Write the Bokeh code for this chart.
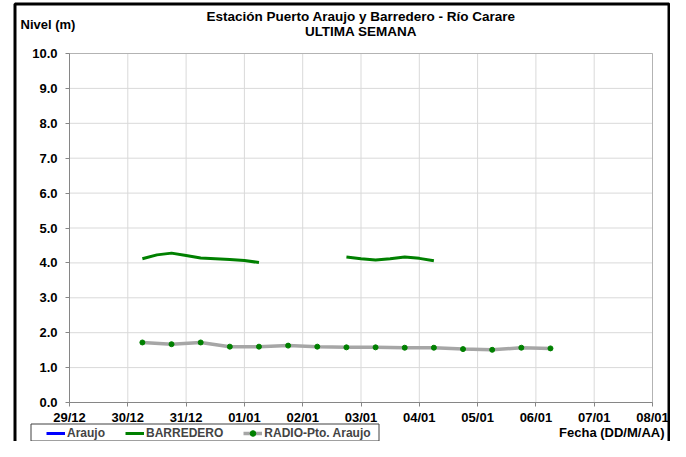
import pandas as pd
from bokeh.plotting import figure
from bokeh.models import (Range1d, FixedTicker, NumeralTickFormatter, Legend,
                          LegendItem, Label, BoxAnnotation)
from bokeh.embed import file_html
from bokeh.resources import INLINE

# ---- data -------------------------------------------------------------
tick_dates = ["2014-12-29", "2014-12-30", "2014-12-31", "2015-01-01", "2015-01-02",
              "2015-01-03", "2015-01-04", "2015-01-05", "2015-01-06", "2015-01-07",
              "2015-01-08"]
tick_labels = ["29/12", "30/12", "31/12", "01/01", "02/01", "03/01", "04/01",
               "05/01", "06/01", "07/01", "08/01"]
y_ticks = [0, 1, 2, 3, 4, 5, 6, 7, 8, 9, 10]

# Araujo has no readings in the week shown
araujo_times = ["2014-12-30 06:00"]
araujo_values = [float("nan")]

barredero_times = ["2014-12-30 06:00", "2014-12-30 12:00", "2014-12-30 18:00",
                   "2014-12-31 00:00", "2014-12-31 06:00", "2014-12-31 12:00",
                   "2014-12-31 18:00", "2015-01-01 00:00", "2015-01-01 06:00",
                   "2015-01-01 12:00",
                   "2015-01-02 18:00", "2015-01-03 00:00", "2015-01-03 06:00",
                   "2015-01-03 12:00", "2015-01-03 18:00", "2015-01-04 00:00",
                   "2015-01-04 06:00"]
barredero_values = [4.12, 4.23, 4.28, 4.21, 4.14, 4.12, 4.10, 4.07, 4.01,
                    float("nan"),
                    4.17, 4.12, 4.08, 4.12, 4.17, 4.13, 4.06]

radio_times = ["2014-12-30 06:00", "2014-12-30 18:00", "2014-12-31 06:00",
               "2014-12-31 18:00", "2015-01-01 06:00", "2015-01-01 18:00",
               "2015-01-02 06:00", "2015-01-02 18:00", "2015-01-03 06:00",
               "2015-01-03 18:00", "2015-01-04 06:00", "2015-01-04 18:00",
               "2015-01-05 06:00", "2015-01-05 18:00", "2015-01-06 06:00"]
radio_values = [1.72, 1.67, 1.72, 1.60, 1.60, 1.63, 1.60, 1.58, 1.58,
                1.57, 1.57, 1.53, 1.51, 1.57, 1.55]

# ---- layout (pixels) --------------------------------------------------
W, H = 670, 441
PX_LEFT, PX_RIGHT = 69, 652      # chart area inside the canvas
PX_TOP, PX_BOTTOM = 53, 402
FONT = "Liberation Sans"
DAY = 86400000

ticks_dt = pd.to_datetime(tick_dates)
tick_ms = [int(t.value // 10**6) for t in ticks_dt]
ppd = (PX_RIGHT - PX_LEFT) / ((tick_ms[-1] - tick_ms[0]) / DAY)
x_start = tick_ms[0] - PX_LEFT / ppd * DAY
x_end = x_start + W / ppd * DAY
ppu = (PX_BOTTOM - PX_TOP) / (y_ticks[-1] - y_ticks[0])
y_start = y_ticks[0] - (H - PX_BOTTOM) / ppu
y_end = y_ticks[-1] + PX_TOP / ppu

p = figure(width=W, height=H, x_axis_type="datetime",
           output_backend="svg", toolbar_location=None,
           x_range=Range1d(x_start, x_end), y_range=Range1d(y_start, y_end),
           min_border=0, background_fill_color="white",
           border_fill_color="white")
p.outline_line_color = None
p.grid.visible = False

# grid lines and plot-area outline
p.segment(x0=tick_ms, x1=tick_ms, y0=[y_ticks[0]] * len(tick_ms),
          y1=[y_ticks[-1]] * len(tick_ms), line_color="#d9d9d9", line_width=1,
          level="underlay")
p.segment(x0=[tick_ms[0]] * len(y_ticks), x1=[tick_ms[-1]] * len(y_ticks),
          y0=y_ticks, y1=y_ticks, line_color="#d9d9d9", line_width=1,
          level="underlay")
p.add_layout(BoxAnnotation(left=tick_ms[0], right=tick_ms[-1], bottom=y_ticks[0],
                           top=y_ticks[-1], fill_alpha=0, line_color="#b3b3b3",
                           line_alpha=1, line_width=1, level="underlay"))

for ax in (p.xaxis[0], p.yaxis[0]):
    ax.axis_line_color = "#868686"
    ax.major_tick_line_color = "#868686"
    ax.major_tick_in = 0
    ax.major_tick_out = 4
    ax.minor_tick_line_color = None
    ax.major_label_text_font = FONT
    ax.major_label_text_font_style = "bold"
    ax.major_label_text_font_size = "13px"
    ax.major_label_text_color = "black"

p.xaxis.fixed_location = y_ticks[0]
p.xaxis.bounds = (tick_ms[0], tick_ms[-1])
p.xaxis.ticker = FixedTicker(ticks=tick_ms)
p.xaxis.major_label_overrides = {m: lab for m, lab in zip(tick_ms, tick_labels)}
p.xaxis.major_label_standoff = 3

p.yaxis.fixed_location = tick_ms[0]
p.yaxis.bounds = (y_ticks[0], y_ticks[-1])
p.yaxis.ticker = FixedTicker(ticks=y_ticks)
p.yaxis.formatter = NumeralTickFormatter(format="0.0")
p.yaxis.major_label_standoff = 8

# ---- series -----------------------------------------------------------
r_ar = p.line(pd.to_datetime(araujo_times), araujo_values, line_color="#0000ff",
              line_width=3)
r_ba = p.line(pd.to_datetime(barredero_times), barredero_values,
              line_color="#008000", line_width=3)
r_ra = p.line(pd.to_datetime(radio_times), radio_values, line_color="#a6a6a6",
              line_width=3.5)
r_rp = p.scatter(pd.to_datetime(radio_times), radio_values, size=5,
                 fill_color="#008000", line_color="#008000")

# legend frame (drawn separately so that its left margin matches)
p.add_layout(BoxAnnotation(left=30.5, right=378.5, top=423.5, bottom=440.5,
                           left_units="canvas", right_units="canvas",
                           top_units="canvas", bottom_units="canvas",
                           fill_color="white", fill_alpha=1,
                           line_color="#404040", line_alpha=1, line_width=1))
legend = Legend(items=[LegendItem(label="Araujo", renderers=[r_ar]),
                       LegendItem(label="BARREDERO", renderers=[r_ba]),
                       LegendItem(label="RADIO-Pto. Araujo", renderers=[r_ra, r_rp])],
                orientation="horizontal", location=(46, 1),
                glyph_width=19, glyph_height=14, label_height=14,
                label_standoff=2, spacing=20, padding=1, margin=0,
                label_text_font=FONT, label_text_font_style="bold",
                label_text_font_size="12px", border_line_color=None,
                background_fill_alpha=0)
p.add_layout(legend)

# ---- texts ------------------------------------------------------------
def add_text(x, y, txt, align="left", size="13px"):
    p.add_layout(Label(x=x, y=y, x_units="canvas", y_units="canvas", text=txt,
                       text_align=align, text_baseline="middle",
                       text_font=FONT, text_font_style="bold",
                       text_font_size=size, text_color="black"))

add_text((PX_LEFT + PX_RIGHT) / 2, 16, "Estación Puerto Araujo y Barredero - Río Carare",
         "center", "13.5px")
add_text((PX_LEFT + PX_RIGHT) / 2, 31, "ULTIMA SEMANA", "center", "13.5px")
add_text(20, 24, "Nivel (m)")
add_text(664, 432, "Fecha (DD/M/AA)", "right")

p.add_layout(BoxAnnotation(left=14.5, right=668.5, top=3.5, bottom=470,
                           left_units="canvas", right_units="canvas",
                           top_units="canvas", bottom_units="canvas",
                           fill_alpha=0, line_color="black", line_alpha=1,
                           line_width=3, level="overlay"))

open("out.html", "w").write(file_html(p, INLINE))
